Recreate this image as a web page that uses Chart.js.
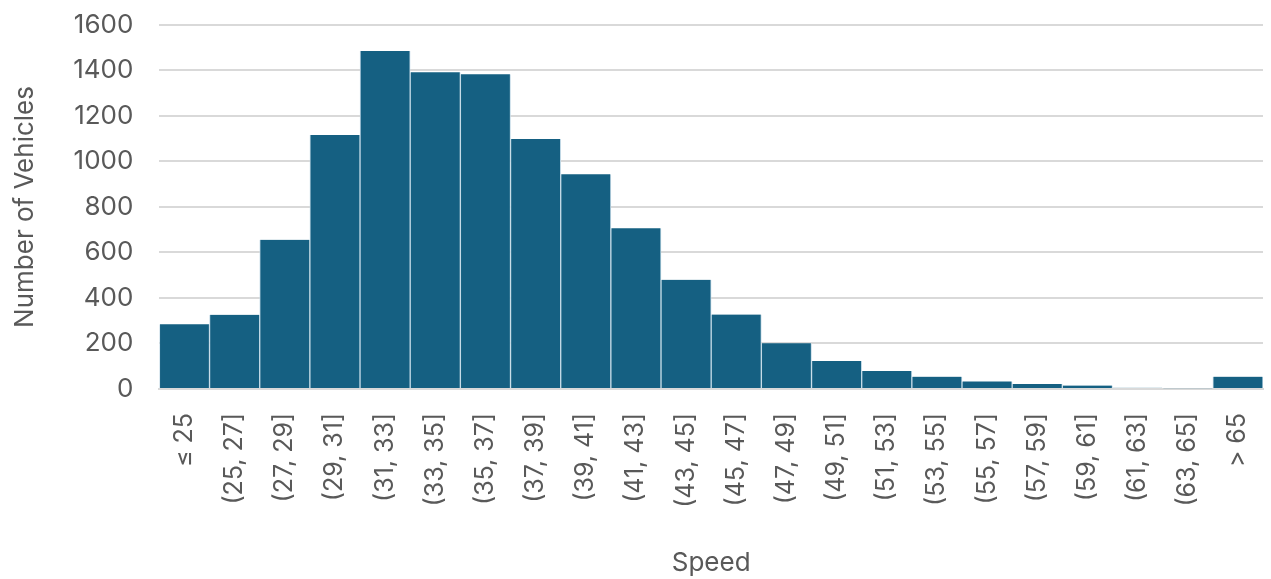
<!DOCTYPE html>
<html>
<head>
<meta charset="utf-8">
<script src="https://cdn.jsdelivr.net/npm/chart.js@4"></script>
<style>
  body { margin: 0; background: #fff; }
  #wrap { width: 1271px; height: 579px; }
</style>
</head>
<body>
<div id="wrap"><canvas id="Graph" width="1271" height="579"></canvas></div>
<script>
const speedBins = ['≤ 25', '(25, 27]', '(27, 29]', '(29, 31]', '(31, 33]', '(33, 35]', '(35, 37]',
    '(37, 39]', '(39, 41]', '(41, 43]', '(43, 45]', '(45, 47]', '(47, 49]', '(49, 51]', '(51, 53]',
    '(53, 55]', '(55, 57]', '(57, 59]', '(59, 61]', '(61, 63]', '(63, 65]', '> 65'];
const vehicles = [284, 326, 656, 1116, 1486, 1392, 1384, 1099, 944, 707, 480, 327, 201, 123, 79,
    54, 33, 22, 15, 5, 3, 54];
const yTicks = [0, 200, 400, 600, 800, 1000, 1200, 1400, 1600];

const grey = '#595959';
const font = 'Inter';

const ctx = document.getElementById('Graph');

new Chart(ctx, {
    type: 'bar',
    data: {
        labels: speedBins,
        datasets: [{
            label: 'Number of Vehicles',
            data: vehicles,
            backgroundColor: '#156082',
            borderColor: '#c5dbe7',
            borderWidth: { left: 1, right: 1, top: 0, bottom: 0 },
            borderSkipped: false,
            barPercentage: 1,
            categoryPercentage: 1
        }]
    },
    options: {
        responsive: false,
        animation: false,
        layout: { padding: { top: 0, right: 0, left: 6, bottom: 0 } },
        plugins: {
            legend: { display: false },
            tooltip: { enabled: false }
        },
        scales: {
            x: {
                grid: { display: false },
                border: { display: true, color: '#d9d9d9', width: 2 },
                afterFit: axis => { axis.paddingRight = 8; },
                ticks: {
                    color: grey,
                    font: { family: font, size: 25 },
                    minRotation: 90,
                    maxRotation: 90,
                    padding: 16,
                    autoSkip: false
                },
                title: {
                    display: true,
                    text: 'Speed',
                    color: grey,
                    font: { family: font, size: 26 },
                    padding: { top: 24, bottom: 0 }
                }
            },
            y: {
                min: 0,
                max: yTicks[yTicks.length - 1],
                afterBuildTicks: axis => { axis.ticks = yTicks.map(v => ({ value: v })); },
                afterFit: axis => { axis.paddingTop = 25; },
                grid: { color: '#d9d9d9', lineWidth: 2, drawTicks: false },
                border: { display: false },
                ticks: {
                    color: grey,
                    font: { family: font, size: 26 },
                    padding: 26,
                    callback: v => String(v)
                },
                title: {
                    display: true,
                    text: 'Number of Vehicles',
                    color: grey,
                    font: { family: font, size: 26 },
                    padding: { bottom: 6 }
                }
            }
        }
    }
});
</script>
</body>
</html>
